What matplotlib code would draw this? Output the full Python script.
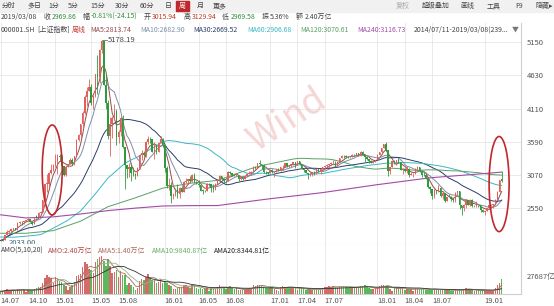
import numpy as np
import pandas as pd
import matplotlib
matplotlib.use("Agg")
import matplotlib.pyplot as plt
from matplotlib.patches import Ellipse, Rectangle

# weekly bars 2014/07/11 - 2019/03/08, 239 weeks (SSE composite)
close = [
    2047, 2059, 2127, 2185, 2194, 2226, 2240, 2217, 2327, 2332, 2329, 2347, 2364, 2375, 2341, 2302, 2420, 2418, 2478, 2487, 2683, 2938, 2938, 3108, 3157, 3235,
    3286, 3376, 3351, 3210, 3076, 3203, 3246, 3310, 3241, 3373, 3617, 3691, 3863, 4035, 4287, 4394, 4442, 4206, 4309, 4658, 4611, 5023, 5166, 4478, 4192, 3687,
    3878, 3958, 4071, 3664, 3744, 3965, 3508, 3232, 3160, 3200, 3098, 3093, 3053, 3183, 3391, 3413, 3383, 3590, 3632, 3631, 3436, 3525, 3435, 3578, 3628, 3539,
    3186, 2901, 2916, 2738, 2763, 2860, 2767, 2874, 2810, 2955, 2979, 3009, 2985, 3078, 2960, 2938, 2913, 2828, 2826, 2822, 2938, 2927, 2885, 2854, 2932,
    2988, 3054, 3013, 2979, 2976, 3125, 3108, 3070, 3067, 3078, 3002, 3033, 3005, 3063, 3091, 3104, 3125, 3196, 3192, 3262, 3244, 3233, 3123, 3111, 3104,
    3154, 3113, 3123, 3159, 3140, 3197, 3202, 3253, 3218, 3213, 3237, 3269, 3223, 3287, 3246, 3173, 3155, 3103, 3083, 3091, 3108, 3106, 3158, 3123, 3158, 3192,
    3218, 3222, 3238, 3253, 3263, 3209, 3268, 3332, 3367, 3366, 3354, 3353, 3349, 3391, 3379, 3417, 3372, 3433, 3382, 3354, 3317, 3289, 3267, 3297, 3307,
    3392, 3429, 3488, 3558, 3462, 3130, 3199, 3289, 3254, 3307, 3269, 3153, 3169, 3131, 3160, 3071, 3082, 3092, 3163, 3193, 3141, 3075, 3067, 3022, 2890, 2847,
    2747, 2831, 2829, 2874, 2740, 2795, 2669, 2730, 2725, 2703, 2682, 2797, 2821, 2606, 2550, 2599, 2676, 2599, 2680, 2580, 2588, 2606, 2594, 2516, 2494,
    2514, 2554, 2596, 2601, 2618, 2682, 2804, 2994.01, 2969.86]
high = [
    2062, 2075, 2130, 2203, 2215, 2233, 2248, 2245, 2328, 2345, 2359, 2357, 2366, 2391, 2379, 2345, 2421, 2444, 2497, 2508, 2686, 2938, 3091, 3125, 3239, 3239,
    3406, 3400, 3406, 3380, 3220, 3205, 3247, 3339, 3337, 3376, 3632, 3715, 3866, 4069, 4317, 4444, 4572, 4489, 4317, 4658, 4958, 5052, 5178.19, 5176, 4655, 4239,
    3975, 3994, 4184, 4110, 3782, 3996, 4007, 3510, 3233, 3258, 3262, 3200, 3100, 3200, 3395, 3458, 3453, 3597, 3678, 3661, 3640, 3593, 3551, 3593, 3684, 3650,
    3539, 3219, 3017, 2968, 2790, 2870, 2934, 2878, 2898, 2975, 3019, 3010, 3050, 3091, 3096, 2978, 2992, 2915, 2845, 2829, 2946, 2939, 2930, 2933, 2944,
    3002, 3070, 3058, 3021, 2994, 3140, 3140, 3110, 3090, 3096, 3079, 3049, 3048, 3070, 3105, 3134, 3128, 3210, 3211, 3265, 3301, 3249, 3240, 3142, 3123,
    3172, 3172, 3130, 3160, 3174, 3199, 3230, 3265, 3255, 3230, 3250, 3280, 3262, 3295, 3281, 3249, 3181, 3149, 3110, 3116, 3117, 3128, 3164, 3175, 3183, 3194,
    3218, 3237, 3248, 3276, 3305, 3285, 3285, 3340, 3382, 3390, 3387, 3369, 3358, 3402, 3396, 3418, 3421, 3450, 3448, 3383, 3355, 3303, 3305, 3301, 3312,
    3393, 3430, 3488, 3559, 3587, 3452, 3202, 3292, 3307, 3310, 3336, 3281, 3175, 3183, 3220, 3185, 3120, 3110, 3181, 3219, 3193, 3143, 3114, 3077, 3000, 2893,
    2847, 2852, 2838, 2915, 2878, 2814, 2795, 2732, 2780, 2743, 2716, 2800, 2827, 2790, 2597, 2610, 2682, 2667, 2703, 2690, 2602, 2666, 2606, 2597, 2533,
    2515, 2555, 2612, 2618, 2619, 2695, 2815, 2997, 3129.94]
low = [
    2033, 2040, 2056, 2125, 2170, 2182, 2208, 2206, 2215, 2300, 2290, 2299, 2340, 2354, 2330, 2290, 2301, 2396, 2409, 2459, 2485, 2680, 2803, 2867, 3086, 3128,
    3199, 3095, 3295, 3195, 3050, 3049, 3200, 3240, 3230, 3230, 3370, 3600, 3650, 3810, 4020, 4156, 4390, 4160, 4100, 4290, 4334, 4520, 4985, 4476, 4100, 3629,
    3373, 3653, 3933, 3537, 3568, 3679, 3500, 2851, 3025, 3038, 2983, 3050, 3012, 3050, 3163, 3312, 3360, 3354, 3558, 3574, 3431, 3327, 3407, 3425, 3570, 3524,
    3115, 2868, 2844, 2638, 2688, 2746, 2719, 2713, 2800, 2804, 2944, 2934, 2971, 2963, 2943, 2931, 2891, 2818, 2780, 2807, 2818, 2907, 2807, 2808, 2839,
    2927, 2985, 3000, 2952, 2950, 2970, 3081, 3056, 3054, 3060, 2979, 3000, 2986, 3005, 3054, 3082, 3083, 3124, 3173, 3186, 3230, 3160, 3100, 3085, 3091,
    3101, 3105, 3044, 3116, 3128, 3134, 3155, 3190, 3199, 3200, 3199, 3224, 3181, 3221, 3230, 3164, 3111, 3100, 3016, 3053, 3063, 3069, 3087, 3119, 3095, 3140,
    3170, 3175, 3188, 3233, 3245, 3201, 3232, 3271, 3330, 3345, 3340, 3330, 3332, 3358, 3371, 3370, 3365, 3378, 3380, 3280, 3302, 3253, 3254, 3255, 3275,
    3314, 3386, 3402, 3487, 3450, 3062, 3091, 3225, 3250, 3221, 3262, 3152, 3092, 3120, 3106, 3041, 3067, 3041, 3089, 3155, 3121, 3041, 3060, 3004, 2865, 2782,
    2691, 2719, 2771, 2800, 2730, 2691, 2653, 2668, 2721, 2667, 2644, 2653, 2766, 2536, 2449, 2511, 2553, 2595, 2590, 2570, 2565, 2568, 2567, 2499, 2485,
    2440.91, 2515, 2546, 2575, 2562, 2608, 2683, 2803, 2969.58]
# weekly turnover, 亿
amount = [
    4300, 4600, 6500, 7600, 6300, 6000, 6200, 5500, 7500, 8000, 7800, 7300, 3000, 6600, 6200, 5800, 8500, 9500, 10500, 10800, 17500, 25500, 30000, 26500, 26000, 17000,
    27000, 23000, 20000, 18500, 14500, 13000, 6500, 10500, 15000, 19000, 28000, 30000, 32000, 43000, 51000, 48000, 40000, 38000, 33000, 50000, 55000, 58000, 60000, 52000, 45000, 55000,
    45000, 33000, 35000, 38000, 27000, 36000, 30000, 30000, 14000, 17000, 15000, 11000, 6500, 9500, 20000, 24000, 22000, 27000, 32000, 26000, 22000, 22000, 18000, 19500, 24000, 17000,
    21000, 17500, 13500, 12500, 8500, 8000, 10000, 10500, 11000, 13500, 14000, 13000, 9500, 14500, 14500, 10000, 8200, 9000, 7500, 7700, 9000, 5500, 9300, 9500, 8500,
    11500, 13500, 11500, 9500, 8300, 11500, 12000, 10000, 8500, 9000, 6000, 7000, 6300, 6700, 8500, 9300, 9500, 13500, 12500, 14500, 15000, 12500, 11500, 9000, 8800,
    10000, 10500, 8500, 6500, 5500, 11000, 12000, 11500, 11000, 9800, 10000, 10500, 9000, 7000, 10000, 9000, 8000, 6000, 8500, 7500, 6000, 6500, 8000, 8500, 8000, 9500,
    11000, 11000, 12000, 11000, 12500, 11000, 10000, 12500, 13000, 12500, 11500, 10000, 9500, 11000, 10000, 10500, 11500, 12500, 13000, 14000, 10500, 9500, 8500, 8000, 7500,
    10000, 13000, 14000, 13500, 13000, 12500, 8500, 4500, 10000, 10000, 9000, 9500, 9500, 6500, 8500, 8500, 7500, 5500, 9000, 9000, 8000, 7500, 7500, 6200, 7000, 7500,
    7000, 7500, 6800, 7500, 7500, 6800, 6200, 6000, 6500, 5200, 4900, 6700, 5000, 7200, 8500, 7500, 8800, 7200, 7400, 6500, 5500, 6000, 5600, 5500, 5200,
    5900, 5600, 6200, 5500, 5500, 9000, 13500, 18000, 24000]
first_open = 2054.0
last_open = 3015.94

# long averages before their window is full
ma60_early_idx = [0, 6, 12, 19, 25, 32, 38, 45, 51]
ma60_early = [2100, 2097, 2113, 2137, 2238, 2364, 2509, 2776, 3024]
ma120_early_idx = [0, 12, 25, 38, 51, 64, 77, 90, 103]
ma120_early = [2159, 2159, 2200, 2349, 2575, 2714, 2866, 2942, 2987]
ma240_idx = [0, 12, 25, 38, 51, 64, 77, 90, 103, 127, 153, 178, 204, 229, 238]
ma240 = [2448, 2399, 2416, 2461, 2514, 2553, 2586, 2592, 2593, 2696, 2796, 2916, 3028, 3092, 3117]

tick_idx = [0, 13, 26, 43, 56, 78, 94, 107, 128, 141, 154, 179, 192, 205, 230]
tick_lab = ["14.07", "14.10", "15.01", "15.05", "15.08", "16.01", "16.05", "16.08",
            "17.01", "17.04", "17.07", "18.01", "18.04", "18.07", "19.01"]
price_ticks = [2550, 3070, 3590, 4110, 4630, 5150]

plt.rcParams["font.family"] = ["Noto Sans CJK SC", "DejaVu Sans"]

W, H = 554, 306
fig = plt.figure(figsize=(W / 100, H / 100), dpi=100)
ax = fig.add_axes([0, 1 - 244 / H, 521 / W, 221 / H])
axv = fig.add_axes([0, 1 - 294 / H, 521 / W, 50 / H])

c = pd.Series(close, dtype=float)
n = len(c)
x = np.arange(n)
o = np.r_[first_open, c.values[:-1]]
o[-1] = last_open
hi = np.maximum(high, np.maximum(o, c))
lo = np.minimum(low, np.minimum(o, c))
up = c.values >= o
RED, GREEN = "#e0605c", "#2f9a3a"
cols = np.where(up, RED, GREEN)

# moving averages
col_ma = {5: "#9a4a4a", 10: "#7d8fa8", 30: "#2c3d6b", 60: "#3cb6c6", 120: "#5aa064", 240: "#a24aa8"}
for k in (5, 10, 30):
    ax.plot(x, c.rolling(k, min_periods=1).mean(), color=col_ma[k], lw=0.7, zorder=3)
m60 = c.rolling(60).mean()
ax.plot(list(ma60_early_idx) + list(x[59:]), list(ma60_early) + list(m60[59:]),
        color=col_ma[60], lw=0.7, zorder=3)
m120 = c.rolling(120).mean()
ax.plot(list(ma120_early_idx) + list(x[119:]), list(ma120_early) + list(m120[119:]),
        color=col_ma[120], lw=0.7, zorder=3)
ax.plot(ma240_idx, ma240, color=col_ma[240], lw=0.8, zorder=3)

# candles
ax.vlines(x, lo, hi, colors=cols, lw=0.6, zorder=4)
body = np.maximum(np.abs(c.values - o), 6)
ax.bar(x, body, bottom=np.minimum(o, c.values), width=0.7, color=cols, lw=0, zorder=5)

ax.set_xlim(-0.3, 247.2)
ax.set_ylim(1991, 5452)
ax.set_yticks(price_ticks)
ax.yaxis.tick_right()
ax.tick_params(axis="y", length=0, pad=4, labelsize=5.5, labelcolor="#555555")
ax.set_xticks(tick_idx)
ax.tick_params(axis="x", length=0, labelbottom=False)
ax.grid(True, color="#e6e6e6", lw=0.6)
ax.set_axisbelow(True)
for s in ("top", "left"):
    ax.spines[s].set_visible(False)
ax.spines["right"].set_color("#cfcfcf")
ax.spines["bottom"].set_color("#cfcfcf")

# marks on extremes
imax = int(np.argmax(hi))
ax.plot([imax, imax + 2.5], [hi[imax], hi[imax]], color="#555555", lw=0.5)
ax.text(imax + 3, hi[imax], "%.2f" % hi[imax], fontsize=5.5, color="#444444", va="center")
imin = int(np.argmin(lo))
ax.text(imin + 4, lo[imin] - 20, "%.2f" % lo[imin], fontsize=5.5, color="#3d6a78", va="center")

# red ellipses around the two rallies
for cx, cy, ew, eh in [(24.5, 3150, 9.5, 1410), (236.8, 2930, 9.5, 1490)]:
    ax.add_patch(Ellipse((cx, cy), ew, eh, fill=False, ec="#c0282d", lw=1.2, zorder=6))

ax.text(0.55, 0.56, "Wind", transform=ax.transAxes, fontsize=26, color="#f3cccc",
        rotation=33, ha="center", va="center", alpha=0.8, zorder=1, style="italic")

# volume panel
amo = pd.Series(amount, dtype=float)
vcols = np.where(up, "#d46a6a", "#5cb85c")
axv.bar(x, amo, width=0.7, color=vcols, lw=0, zorder=3)
for k, cl in ((5, "#b06a5a"), (10, "#8db88a"), (20, "#333333")):
    axv.plot(x, amo.rolling(k, min_periods=1).mean(), color=cl, lw=0.6, zorder=4)
axv.set_xlim(-0.3, 247.2)
axv.set_ylim(0, 79100)
axv.set_yticks([27687])
axv.set_yticklabels(["27687亿"])
axv.yaxis.tick_right()
axv.tick_params(axis="y", length=0, pad=4, labelsize=5.5, labelcolor="#555555")
axv.set_xticks(tick_idx)
axv.set_xticklabels(tick_lab, ha="left")
axv.tick_params(axis="x", length=0, pad=2, labelsize=5.5, labelcolor="#555555")
axv.grid(True, axis="x", color="#e6e6e6", lw=0.6)
axv.set_axisbelow(True)
for s in ("top", "left"):
    axv.spines[s].set_visible(False)
axv.spines["right"].set_color("#cfcfcf")
axv.spines["bottom"].set_color("#cfcfcf")

renderer = fig.canvas.get_renderer()


def ft(px, py, s, **kw):
    kw.setdefault("fontsize", 5)
    kw.setdefault("color", "#444444")
    return fig.text(px / W, 1 - py / H, s, va="center", **kw)


def row(px, py, items, size=5):
    # lay texts one after another: (text, colour, gap after in px)
    for s, cl, gap in items:
        t = ft(px, py, s, color=cl, fontsize=size)
        px += t.get_window_extent(renderer).width + gap


# toolbar row
fig.patches.append(Rectangle((0, 1 - 12 / H), 1, 12 / H, transform=fig.transFigure,
                             color="#f1f1f1", zorder=0))
for px, s in [(2, "分时"), (27, "多日"), (48, "1分"), (68, "5分"), (90, "15分"), (115, "30分"),
              (140, "60分"), (165, "日"), (197, "月"), (213, "更多")]:
    ft(px, 6, s)
fig.patches.append(Rectangle((176 / W, 1 - 11 / H), 13 / W, 10 / H, transform=fig.transFigure,
                             color="#c0282d", zorder=1))
ft(179, 6, "周", color="white")
for px, s, cl in [(396, "复权", "#aaaaaa"), (422, "超级叠加", "#444444"), (460, "画线", "#444444"),
                  (487, "工具", "#444444"), (515, "F9", "#444444"), (535, "隐藏▸", "#444444")]:
    ft(px, 6, s, color=cl)

# quote row
G, R = "#2f8a3a", "#c0392b"
row(1, 17, [("2019/03/08", "#444444", 6), ("收", "#444444", 1.5), ("2969.86", G, 6),
            ("幅", "#444444", 1.5), ("-0.81%(-24.15)", G, 6), ("开", "#444444", 1.5),
            ("3015.94", R, 6), ("高", "#444444", 1.5), ("3129.94", R, 6),
            ("低", "#444444", 1.5), ("2969.58", G, 6), ("振", "#444444", 1.5),
            ("5.36%", "#444444", 6), ("额", "#444444", 1.5), ("2.40万亿", "#444444", 0)])

# MA legend row
row(1, 30, [("000001.SH", "#444444", 2), ("[上证指数]", "#444444", 2), ("周线", R, 4),
            ("MA5:2813.74", col_ma[5], 9), ("MA10:2682.90", col_ma[10], 9),
            ("MA30:2669.52", col_ma[30], 9), ("MA60:2906.68", col_ma[60], 9),
            ("MA120:3070.61", col_ma[120], 9), ("MA240:3116.73", col_ma[240], 8),
            ("2014/07/11-2019/03/08(239...", "#444444", 3), ("▼", "#777777", 0)])

# amount legend row
row(1, 251, [("AMO(5,10,20)", "#444444", 4), ("AMO:2.40万亿", "#b04a4a", 6),
             ("AMA5:1.40万亿", "#b06a5a", 6), ("AMA10:9840.87亿", "#6aaa6a", 6),
             ("AMA20:8344.81亿", "#222222", 0)])

fig.savefig("out.png", dpi=100)
